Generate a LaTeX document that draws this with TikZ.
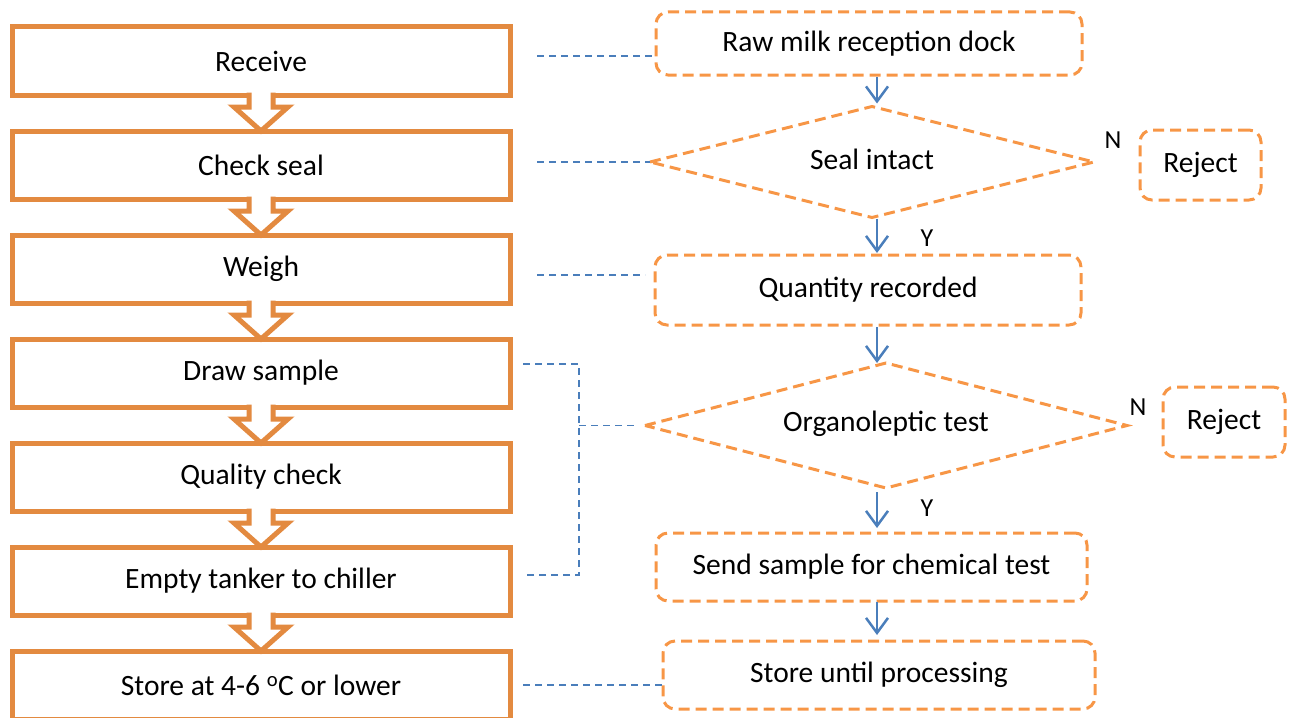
\documentclass[tikz,border=0pt]{standalone}
\usepackage{fontspec}
\setmainfont{Carlito}
\usetikzlibrary{arrows.meta,calc}
\definecolor{boxorange}{RGB}{227,138,64}
\definecolor{dashorange}{RGB}{247,150,70}
\definecolor{linkblue}{RGB}{74,126,187}
\tikzset{
  leftbox/.style={draw=boxorange, line width=5pt, rectangle, minimum width=498pt, minimum height=68pt, inner sep=0pt, outer sep=0pt, font=\fontsize{29.5}{35}\selectfont},
  chev/.style={draw=boxorange, line width=5pt, line join=miter},
  rbox/.style={draw=dashorange, line width=3pt, dash pattern=on 11pt off 6pt, rounded corners=12pt, rectangle, inner sep=0pt, outer sep=0pt, font=\fontsize{29.5}{35}\selectfont},
  dtext/.style={rectangle, inner sep=0pt, outer sep=0pt, font=\fontsize{29.5}{35}\selectfont},
  dline/.style={draw=dashorange, line width=3pt, dash pattern=on 11pt off 6pt, line join=miter},
  flow/.style={draw=linkblue, line width=2.5pt, -{Straight Barb[length=15pt,width=22pt,line width=2.5pt]}},
  link/.style={draw=linkblue, line width=1.8pt, dash pattern=on 7pt off 5pt},
  yn/.style={font=\fontsize{26}{31}\selectfont, inner sep=0pt},
}
\begin{document}
\begin{tikzpicture}[x=1pt,y=-1pt]
\useasboundingbox (0,0) rectangle (1289,717);
% left column
\node[leftbox] (L1) at (261,61) {Receive};
\node[leftbox] (L2) at (261,165) {Check seal};
\node[leftbox] (L3) at (261,269) {Weigh};
\node[leftbox] (L4) at (261,373) {Draw sample};
\node[leftbox] (L5) at (261,477) {Quality check};
\node[leftbox] (L6) at (261,581) {Empty tanker to chiller};
\node[leftbox] (L7) at (261,685) {Store at 4-6 \textsuperscript{o}C or lower};
\foreach \i/\j in {1/2,2/3,3/4,4/5,5/6,6/7}{
  \fill[white] ($(L\i.south)+(-12,-3)$) -- ($(L\i.south)+(-12,12)$) -- ($(L\i.south)+(-27,12)$) -- (L\j.north) -- ($(L\i.south)+(27,12)$) -- ($(L\i.south)+(12,12)$) -- ($(L\i.south)+(12,-3)$) -- cycle;
  \draw[chev] ($(L\i.south)+(-12,-2.5)$) -- ($(L\i.south)+(-12,12)$) -- ($(L\i.south)+(-27,12)$) -- (L\j.north) -- ($(L\i.south)+(27,12)$) -- ($(L\i.south)+(12,12)$) -- ($(L\i.south)+(12,-2.5)$);
}
% right column
\node[rbox, minimum width=426pt, minimum height=63pt] (R1) at (869,43.5) {Raw milk reception dock};
\node[dtext, minimum width=444pt, minimum height=111pt] (D1) at (872,162) {\raisebox{6pt}{Seal intact}};
\draw[dline] (D1.west) -- (D1.north) -- (D1.east) -- (D1.south) -- cycle;
\node[rbox, minimum width=121pt, minimum height=70pt] (J1) at (1200.5,165) {Reject};
\node[rbox, minimum width=426pt, minimum height=70pt] (R2) at (868,290) {Quantity recorded};
\node[dtext, minimum width=482pt, minimum height=125pt] (D2) at (886,425.5) {\raisebox{8pt}{Organoleptic test}};
\draw[dline] (D2.west) -- (D2.north) -- (D2.east) -- (D2.south) -- cycle;
\node[rbox, minimum width=122pt, minimum height=70pt] (J2) at (1224,422) {Reject};
\node[rbox, minimum width=431pt, minimum height=68pt] (R3) at (871.5,567) {Send sample for chemical test};
\node[rbox, minimum width=432pt, minimum height=68pt] (R4) at (879,675) {Store until processing};
% labels
\node[yn] (n1) at (1113,140) {N};
\node[yn] (y1) at (927,238) {Y};
\node[yn] (n2) at (1138,407) {N};
\node[yn] (y2) at (927,508) {Y};
% flow arrows
\coordinate (ax) at (877,0);
\draw[flow] ([yshift=-2pt]R1.south -| ax) -- ([yshift=3pt]D1.north -| ax);
\draw[flow] ([yshift=-1pt]D1.south -| ax) -- ([yshift=2pt]R2.north -| ax);
\draw[flow] ([yshift=-2pt]R2.south -| ax) -- (D2.north -| ax);
\draw[flow] ([yshift=-4pt]D2.south -| ax) -- ([yshift=5pt]R3.north -| ax);
\draw[flow] ([yshift=-1pt]R3.south -| ax) -- ([yshift=6pt]R4.north -| ax);
% dashed links
\coordinate (k1) at ($(L1.east)+(27,-5)$);
\draw[link] (k1) -- (k1 -| R1.west);
\coordinate (k2) at ($(L2.east)+(27,-3)$);
\draw[link] (k2) -- (k2 -| D1.west);
\coordinate (k3) at ($(L3.east)+(27,6)$);
\draw[link] (k3) -- ($(k3 -| R2.west)+(-10,0)$);
\coordinate (b1) at ($(L4.east)+(13,-9)$);
\coordinate (b2) at ($(L6.east)+(13,-6)$);
\coordinate (bx) at ($(b1)+(56,0)$);
\draw[link] (b1) -- (bx) |- (b2);
\draw[link] (bx |- D2.west) -- ($(D2.west)+(-10,0)$);
\coordinate (k7) at ($(L7.east)+(13,0)$);
\draw[link] (k7) -- (k7 -| R4.west);
\end{tikzpicture}
\end{document}
